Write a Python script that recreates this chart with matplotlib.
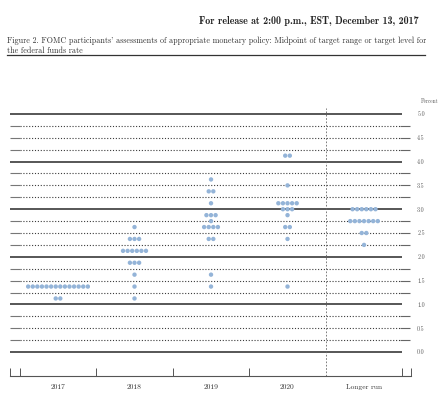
import numpy as np
import matplotlib
matplotlib.use("Agg")
import matplotlib.pyplot as plt

# dot plot values: midpoint levels and number of participants at each level
years = ["2017", "2018", "2019", "2020", "Longer run"]

levels_2017 = [1.375, 1.125]
counts_2017 = [14, 2]

levels_2018 = [2.625, 2.375, 2.125, 1.875, 1.625, 1.375, 1.125]
counts_2018 = [1, 3, 6, 3, 1, 1, 1]

levels_2019 = [3.625, 3.375, 3.125, 2.875, 2.75, 2.625, 2.375, 1.625, 1.375]
counts_2019 = [1, 2, 1, 3, 1, 4, 2, 1, 1]

levels_2020 = [4.125, 3.5, 3.125, 3.0, 2.875, 2.625, 2.375, 1.375]
counts_2020 = [2, 1, 5, 3, 1, 2, 1, 1]

levels_lr = [3.0, 2.75, 2.5, 2.25]
counts_lr = [6, 7, 2, 1]

y_labels = ["0.0", "0.5", "1.0", "1.5", "2.0", "2.5", "3.0", "3.5", "4.0", "4.5", "5.0"]

columns = [(levels_2017, counts_2017), (levels_2018, counts_2018),
           (levels_2019, counts_2019), (levels_2020, counts_2020),
           (levels_lr, counts_lr)]

W, H = 445, 398
fig = plt.figure(figsize=(W / 100, H / 100), dpi=100)
fig.patch.set_facecolor("white")

# axes from x=10..411 px, y=100..376 px
ax = fig.add_axes([10 / W, (H - 376) / H, 401 / W, 276 / H])
x0, x1 = -0.6275, 4.614
ax.set_xlim(x0, x1)
ax.set_ylim(-0.504, 5.294)

# horizontal grid lines
for v in np.arange(0, 5.01, 0.25):
    if v % 1 == 0:
        ax.hlines(v, x0, 4.5, color="#3a3a3a", lw=1.2, zorder=1)
    else:
        ax.hlines(v, -0.5, 4.47, color="#3c3c3c", lw=0.8,
                  linestyles=(0, (1.0, 1.6)), zorder=1)
        ax.hlines(v, x0, -0.5, color="#777777", lw=0.8, zorder=1)
        ax.hlines(v, 4.47, 4.60, color="#666666", lw=0.8, zorder=1)

# separator before longer run
ax.vlines(3.5, -0.504, 5.12, color="#666666", lw=0.6,
          linestyles=(0, (2.0, 2.0)), zorder=1)

# dots
dx = 0.06
for i, (levels, counts) in enumerate(columns):
    for lvl, n in zip(levels, counts):
        xs = i + (np.arange(n) - (n - 1) / 2) * dx
        ax.scatter(xs, [lvl] * n, s=10, color="#94b4d8", edgecolors="none", zorder=3)

# axes styling
for side in ["left", "top", "right"]:
    ax.spines[side].set_visible(False)
ax.spines["bottom"].set_color("#555555")
ax.spines["bottom"].set_linewidth(0.8)

ax.set_xticks([x0, -0.5, 0.5, 1.5, 2.5, 4.5, x1])
ax.set_xticklabels([])
ax.tick_params(axis="x", which="major", direction="in", length=5.5,
               width=0.7, color="#555555")
ax.set_xticks(range(len(years)), minor=True)
ax.set_xticklabels(years, minor=True, family="cmr10", fontsize=5.4, color="#333333")
ax.tick_params(axis="x", which="minor", length=0, pad=6)

ax.yaxis.tick_right()
ax.set_yticks(np.arange(0, 5.01, 0.5))
ax.set_yticklabels(y_labels, family="cmr10", fontsize=4.3, color="#555555")
ax.tick_params(axis="y", length=0, pad=4.5)

fig.text(438 / W, 1 - 101 / H, "Percent", ha="right", va="center",
         family="cmr10", fontsize=3.8, color="#555555")

# header and caption
fig.text(419 / W, 1 - 21 / H, "For release at 2:00 p.m., EST, December 13, 2017",
         ha="right", va="center", family="cmb10", fontsize=7.2, color="#222222")
fig.text(7 / W, 1 - 41 / H,
         "Figure 2. FOMC participants' assessments of appropriate monetary policy: "
         "Midpoint of target range or target level for",
         ha="left", va="center", family="cmr10", fontsize=5.75, color="#333333")
fig.text(7 / W, 1 - 50.5 / H, "the federal funds rate",
         ha="left", va="center", family="cmr10", fontsize=5.75, color="#333333")
fig.add_artist(plt.Line2D([7 / W, 425 / W], [1 - 55 / H, 1 - 55 / H],
                          color="#333333", lw=0.9))

fig.savefig("out.png", dpi=100, facecolor="white")
